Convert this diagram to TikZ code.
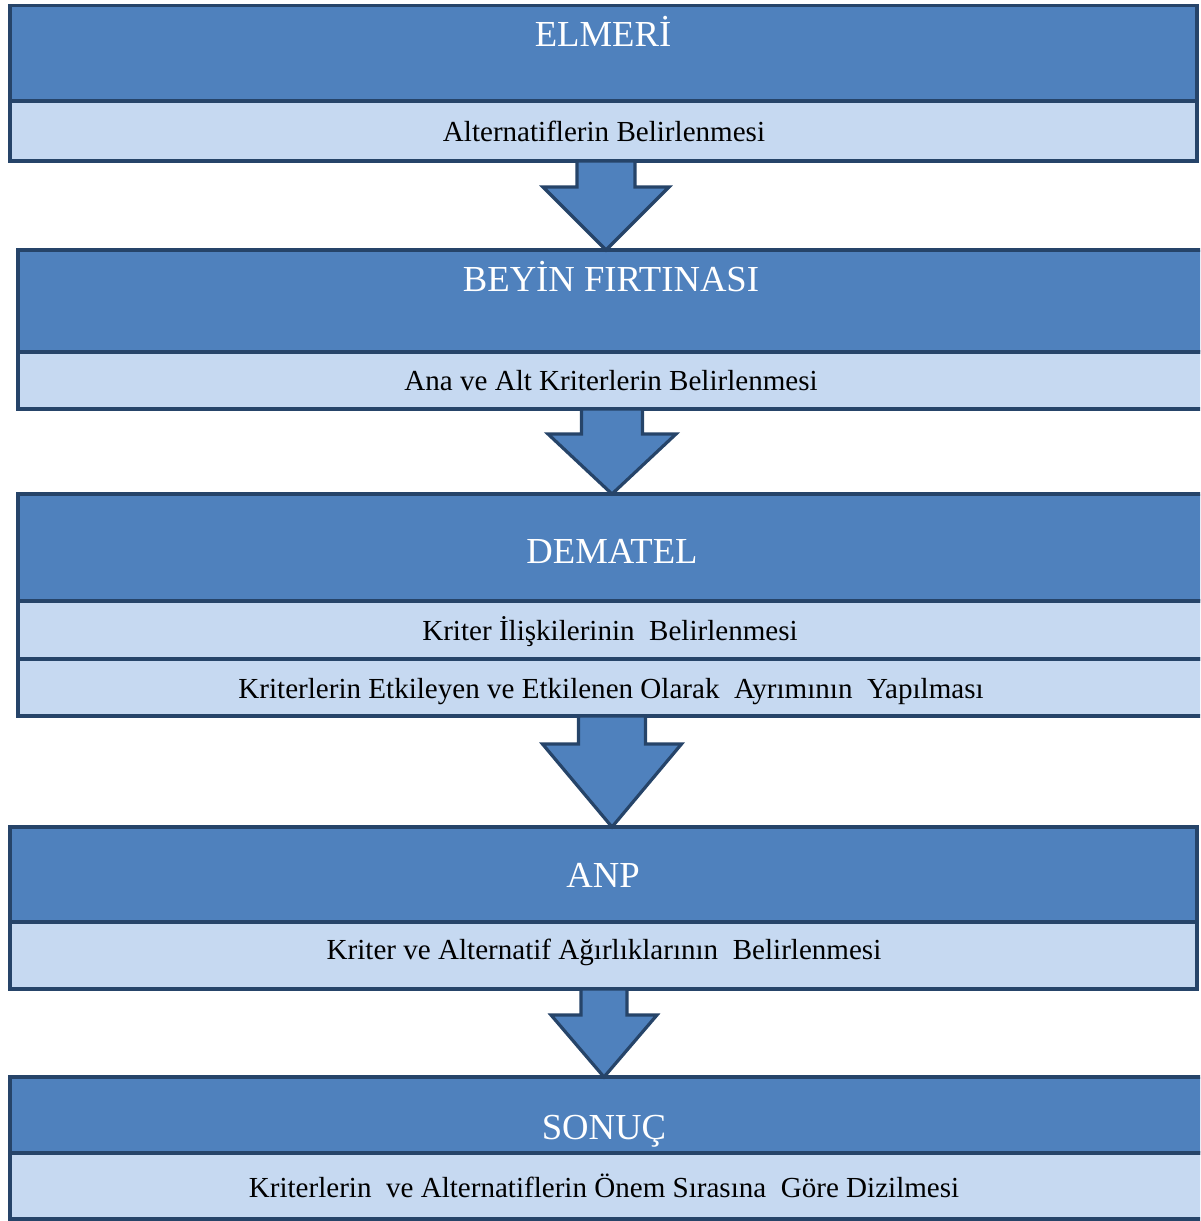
\documentclass[tikz,border=0pt]{standalone}
\usepackage{fontspec}
\setmainfont{Liberation Serif}
\usetikzlibrary{calc}
\definecolor{hdark}{HTML}{4F81BD}
\definecolor{hlight}{HTML}{C6D9F1}
\definecolor{hborder}{HTML}{264469}
\tikzset{
  band/.style={draw=hborder, line width=2.9pt, anchor=north west, inner sep=0pt, outer sep=0pt},
  headband/.style={band, fill=hdark},
  lightband/.style={band, fill=hlight},
  headtext/.style={text=white, font=\fontsize{27.5}{31}\selectfont, inner sep=0pt, text height=0.66em, text depth=0pt, anchor=center, yshift=-4.5pt},
  bodytext/.style={text=black, font=\fontsize{21.8}{25}\selectfont, inner sep=0pt, text height=0.66em, text depth=0pt, anchor=center, yshift=-4.5pt},
  barrow/.style={draw=hborder, line width=2.4pt, fill=hdark, line join=miter}
}
\newcommand\blockarr[6]{%
  % #1 from node, #2 to node, #3 center x, #4 shaft half width, #5 head half width, #6 head length
  \path (#1.south -| #3,0) coordinate (#1-s) (#2.north -| #3,0) coordinate (#2-t);
  \draw[barrow] ($(#1-s)+(-#4,0)$) -- ($(#2-t)+(-#4,-#6)$) -- ($(#2-t)+(-#5,-#6)$) -- (#2-t)
    -- ($(#2-t)+(#5,-#6)$) -- ($(#2-t)+(#4,-#6)$) -- ($(#1-s)+(#4,0)$) -- cycle;
}
\begin{document}
\begin{tikzpicture}[x=0.75pt,y=-0.75pt]
\useasboundingbox (0,0) rectangle (1200,1221);
\clip (0,0) rectangle (1200,1221);
% Box 1
\node[headband, minimum width=1187*0.75pt, minimum height=95.5*0.75pt] (b1h) at (10,5.5) {};
\node[lightband, minimum width=1187*0.75pt, minimum height=60*0.75pt] (b1l) at (10,101) {};
% Box 2
\node[headband, minimum width=1200*0.75pt, minimum height=102*0.75pt] (b2h) at (18,250) {};
\node[lightband, minimum width=1200*0.75pt, minimum height=57*0.75pt] (b2l) at (18,352) {};
% Box 3
\node[headband, minimum width=1200*0.75pt, minimum height=107*0.75pt] (b3h) at (18,494) {};
\node[lightband, minimum width=1200*0.75pt, minimum height=58*0.75pt] (b3l) at (18,601) {};
\node[lightband, minimum width=1200*0.75pt, minimum height=57*0.75pt] (b3m) at (18,659) {};
% Box 4
\node[headband, minimum width=1187*0.75pt, minimum height=95*0.75pt] (b4h) at (10,827) {};
\node[lightband, minimum width=1187*0.75pt, minimum height=67*0.75pt] (b4l) at (10,922) {};
% Box 5
\node[headband, minimum width=1200*0.75pt, minimum height=76*0.75pt] (b5h) at (10,1077) {};
\node[lightband, minimum width=1200*0.75pt, minimum height=66*0.75pt] (b5l) at (10,1153) {};
% Texts
\node[headtext] (t1) at (603,36) {ELMERİ};
\node[bodytext] (t1b) at (604,131) {Alternatiflerin Belirlenmesi};
\node[headtext] (t2) at (611,281) {BEYİN FIRTINASI};
\node[bodytext] (t2b) at (611,380) {Ana ve Alt Kriterlerin Belirlenmesi};
\node[headtext] (t3) at (612,553) {DEMATEL};
\node[bodytext] (t3b) at (610,630) {Kriter İlişkilerinin\ \ Belirlenmesi};
\node[bodytext] (t3c) at (611,688) {Kriterlerin Etkileyen ve Etkilenen Olarak\ \ Ayrımının\ \ Yapılması};
\node[headtext] (t4) at (603,877) {ANP};
\node[bodytext] (t4b) at (604,949) {Kriter ve Alternatif Ağırlıklarının\ \ Belirlenmesi};
\node[headtext] (t5) at (604,1129) {SONUÇ};
\node[bodytext] (t5b) at (604,1187) {Kriterlerin\ \ ve Alternatiflerin Önem Sırasına\ \ Göre Dizilmesi};
% Arrows
\blockarr{b1l}{b2h}{606}{29}{63}{63}
\blockarr{b2l}{b3h}{612}{30.5}{64}{60}
\blockarr{b3m}{b4h}{612}{33.5}{69.5}{83}
\blockarr{b4l}{b5h}{604}{23}{53}{62}
\end{tikzpicture}
\end{document}
